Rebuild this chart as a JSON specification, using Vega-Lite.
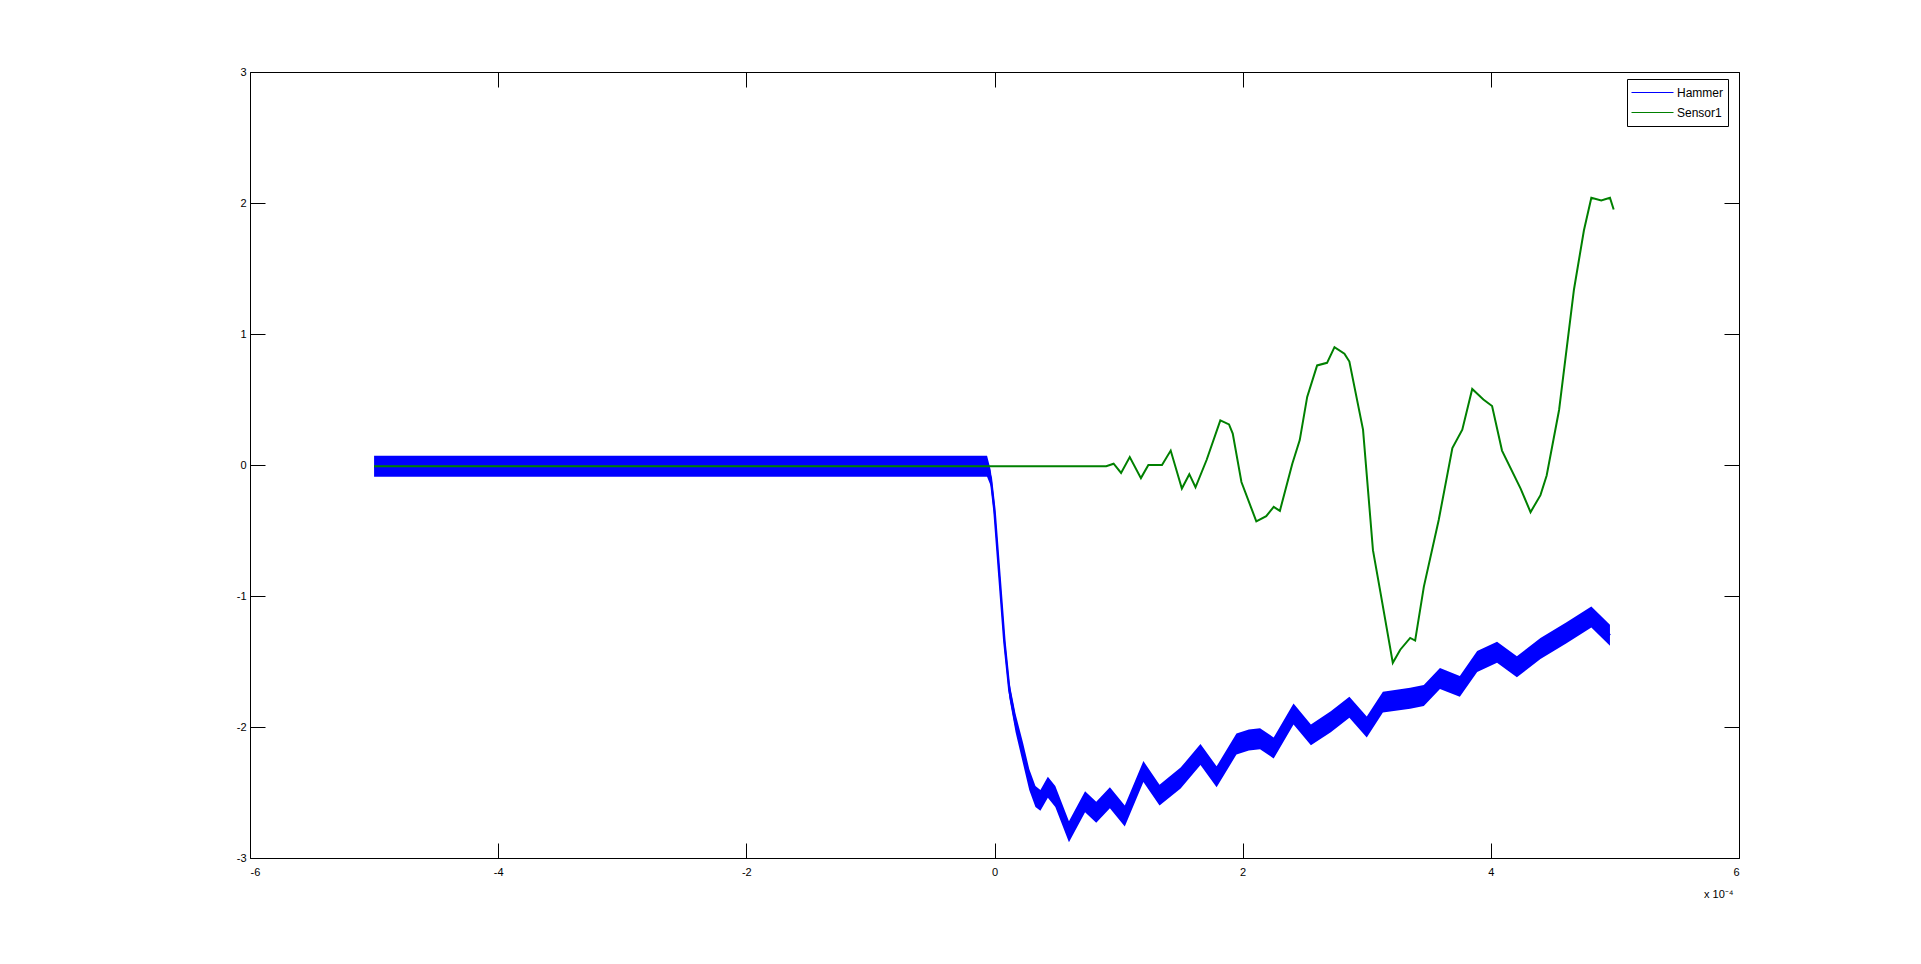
{
  "$schema": "https://vega.github.io/schema/vega-lite/v6.json",
  "width": 1489,
  "height": 786,
  "autosize": {"type": "none"},
  "padding": {"left": 250, "top": 72, "right": 182, "bottom": 106},
  "background": "white",
  "config": {
    "view": {"stroke": "black", "strokeWidth": 1},
    "font": "Liberation Sans",
    "axis": {
      "grid": false,
      "domain": false,
      "tickColor": "black",
      "tickSize": -15,
      "tickWidth": 1,
      "labelFontSize": 11,
      "labelColor": "black",
      "labelFont": "Liberation Sans",
      "titleFont": "Liberation Sans",
      "titleFontWeight": "normal",
      "titleFontSize": 11,
      "titleColor": "black"
    }
  },
  "datasets": {
    "hammer": [
      {"t": -5.0, "v": -0.015, "lo": -0.09, "hi": 0.07},
      {"t": -0.06, "v": -0.015, "lo": -0.09, "hi": 0.07},
      {"t": -0.03, "v": -0.1, "lo": -0.16, "hi": -0.04},
      {"t": 0.0, "v": -0.35, "lo": -0.41, "hi": -0.29},
      {"t": 0.04, "v": -0.85, "lo": -0.91, "hi": -0.79},
      {"t": 0.08, "v": -1.35, "lo": -1.41, "hi": -1.29},
      {"t": 0.12, "v": -1.72, "lo": -1.78, "hi": -1.66},
      {"t": 0.17, "v": -1.97, "lo": -2.04, "hi": -1.9},
      {"t": 0.23, "v": -2.2, "lo": -2.28, "hi": -2.12},
      {"t": 0.28, "v": -2.4, "lo": -2.48, "hi": -2.32},
      {"t": 0.33, "v": -2.53, "lo": -2.61, "hi": -2.45},
      {"t": 0.37, "v": -2.56, "lo": -2.64, "hi": -2.48},
      {"t": 0.43, "v": -2.46, "lo": -2.54, "hi": -2.38},
      {"t": 0.49, "v": -2.53, "lo": -2.61, "hi": -2.45},
      {"t": 0.6, "v": -2.8, "lo": -2.88, "hi": -2.72},
      {"t": 0.73, "v": -2.57, "lo": -2.65, "hi": -2.49},
      {"t": 0.82, "v": -2.65, "lo": -2.73, "hi": -2.57},
      {"t": 0.93, "v": -2.54, "lo": -2.62, "hi": -2.46},
      {"t": 1.05, "v": -2.68, "lo": -2.76, "hi": -2.6},
      {"t": 1.2, "v": -2.34, "lo": -2.42, "hi": -2.26},
      {"t": 1.33, "v": -2.52, "lo": -2.6, "hi": -2.44},
      {"t": 1.5, "v": -2.39, "lo": -2.47, "hi": -2.31},
      {"t": 1.66, "v": -2.21, "lo": -2.29, "hi": -2.13},
      {"t": 1.79, "v": -2.38, "lo": -2.46, "hi": -2.3},
      {"t": 1.95, "v": -2.13, "lo": -2.21, "hi": -2.05},
      {"t": 2.05, "v": -2.1, "lo": -2.18, "hi": -2.02},
      {"t": 2.14, "v": -2.09, "lo": -2.17, "hi": -2.01},
      {"t": 2.25, "v": -2.16, "lo": -2.24, "hi": -2.08},
      {"t": 2.41, "v": -1.9, "lo": -1.98, "hi": -1.82},
      {"t": 2.55, "v": -2.06, "lo": -2.14, "hi": -1.98},
      {"t": 2.71, "v": -1.96, "lo": -2.04, "hi": -1.88},
      {"t": 2.86, "v": -1.85, "lo": -1.93, "hi": -1.77},
      {"t": 3.0, "v": -2.0, "lo": -2.08, "hi": -1.92},
      {"t": 3.13, "v": -1.81, "lo": -1.89, "hi": -1.73},
      {"t": 3.35, "v": -1.78, "lo": -1.86, "hi": -1.7},
      {"t": 3.46, "v": -1.76, "lo": -1.84, "hi": -1.68},
      {"t": 3.59, "v": -1.63, "lo": -1.71, "hi": -1.55},
      {"t": 3.75, "v": -1.69, "lo": -1.77, "hi": -1.61},
      {"t": 3.89, "v": -1.5, "lo": -1.58, "hi": -1.42},
      {"t": 4.05, "v": -1.43, "lo": -1.51, "hi": -1.35},
      {"t": 4.21, "v": -1.54, "lo": -1.62, "hi": -1.46},
      {"t": 4.4, "v": -1.4, "lo": -1.48, "hi": -1.32},
      {"t": 4.61, "v": -1.28, "lo": -1.36, "hi": -1.2},
      {"t": 4.81, "v": -1.16, "lo": -1.24, "hi": -1.08},
      {"t": 4.96, "v": -1.3, "lo": -1.38, "hi": -1.22}
    ],
    "sensor": [
      {"t": -5.0, "v": -0.01},
      {"t": 0.9, "v": -0.01},
      {"t": 0.96, "v": 0.01},
      {"t": 1.02, "v": -0.06},
      {"t": 1.09, "v": 0.06},
      {"t": 1.18, "v": -0.1},
      {"t": 1.24, "v": 0.0},
      {"t": 1.35, "v": 0.0},
      {"t": 1.42, "v": 0.11},
      {"t": 1.51, "v": -0.18},
      {"t": 1.57, "v": -0.07},
      {"t": 1.62, "v": -0.17},
      {"t": 1.71, "v": 0.04},
      {"t": 1.82, "v": 0.34},
      {"t": 1.89, "v": 0.31},
      {"t": 1.92, "v": 0.24},
      {"t": 1.99, "v": -0.13},
      {"t": 2.11, "v": -0.43},
      {"t": 2.19, "v": -0.39},
      {"t": 2.25, "v": -0.32},
      {"t": 2.3, "v": -0.35},
      {"t": 2.4, "v": 0.01},
      {"t": 2.46, "v": 0.19},
      {"t": 2.52, "v": 0.52},
      {"t": 2.6, "v": 0.76},
      {"t": 2.68, "v": 0.78},
      {"t": 2.74, "v": 0.9},
      {"t": 2.82, "v": 0.85},
      {"t": 2.86, "v": 0.79},
      {"t": 2.97, "v": 0.27},
      {"t": 3.05, "v": -0.65},
      {"t": 3.11, "v": -0.97},
      {"t": 3.21, "v": -1.51},
      {"t": 3.27, "v": -1.41},
      {"t": 3.35, "v": -1.32},
      {"t": 3.39, "v": -1.34},
      {"t": 3.46, "v": -0.93},
      {"t": 3.58, "v": -0.42},
      {"t": 3.69, "v": 0.13},
      {"t": 3.77, "v": 0.27},
      {"t": 3.85, "v": 0.58},
      {"t": 3.94, "v": 0.5},
      {"t": 4.01, "v": 0.45},
      {"t": 4.09, "v": 0.11},
      {"t": 4.24, "v": -0.18},
      {"t": 4.32, "v": -0.36},
      {"t": 4.4, "v": -0.23},
      {"t": 4.45, "v": -0.08},
      {"t": 4.55, "v": 0.42},
      {"t": 4.67, "v": 1.34},
      {"t": 4.75, "v": 1.79},
      {"t": 4.81, "v": 2.04},
      {"t": 4.89, "v": 2.02},
      {"t": 4.96, "v": 2.04},
      {"t": 4.99, "v": 1.95}
    ]
  },
  "layer": [
    {
      "data": {"name": "hammer"},
      "mark": {"type": "area", "color": "#0000ff", "opacity": 1},
      "encoding": {
        "x": {
          "field": "t", "type": "quantitative",
          "scale": {"domain": [-6, 6], "nice": false, "zero": false},
          "axis": {
            "orient": "bottom",
            "values": [-6, -4, -2, 0, 2, 4, 6],
            "labelExpr": "'' + datum.value",
            "labelPadding": 23,
            "labelBaseline": "top",
            "title": "x 10⁻⁴",
            "titleAnchor": "end",
            "titleAlign": "right",
            "titleBaseline": "alphabetic",
            "titleX": 1483,
            "titleY": 39
          }
        },
        "y": {
          "field": "hi", "type": "quantitative",
          "scale": {"domain": [-3, 3], "nice": false, "zero": false},
          "axis": {
            "orient": "left",
            "values": [-3, -2, -1, 0, 1, 2, 3],
            "labelExpr": "'' + datum.value",
            "labelPadding": 19,
            "title": null
          }
        },
        "y2": {"field": "lo"}
      }
    },
    {
      "data": {"name": "hammer"},
      "mark": {"type": "line", "strokeWidth": 2.5},
      "encoding": {
        "x": {
          "field": "t", "type": "quantitative",
          "axis": {"orient": "top", "values": [-6, -4, -2, 0, 2, 4, 6], "labels": false, "title": null}
        },
        "y": {
          "field": "v", "type": "quantitative",
          "axis": {"orient": "right", "values": [-3, -2, -1, 0, 1, 2, 3], "labels": false, "title": null}
        },
        "color": {
          "datum": "Hammer",
          "type": "nominal",
          "scale": {"domain": ["Hammer", "Sensor1"], "range": ["#0000ff", "#008000"]},
          "legend": {
            "orient": "none",
            "legendX": 1377,
            "legendY": 7,
            "title": null,
            "strokeColor": "black",
            "fillColor": "white",
            "padding": 4,
            "symbolType": "stroke",
            "symbolSize": 1764,
            "symbolStrokeWidth": 1,
            "labelFontSize": 12,
            "labelColor": "black",
            "labelFont": "Liberation Sans",
            "labelOffset": 3,
            "clipHeight": 19,
            "rowPadding": 1
          }
        }
      }
    },
    {
      "data": {"name": "sensor"},
      "mark": {"type": "line", "strokeWidth": 2},
      "encoding": {
        "x": {"field": "t", "type": "quantitative", "axis": null},
        "y": {"field": "v", "type": "quantitative", "axis": null},
        "color": {"datum": "Sensor1", "type": "nominal"}
      }
    }
  ]
}
